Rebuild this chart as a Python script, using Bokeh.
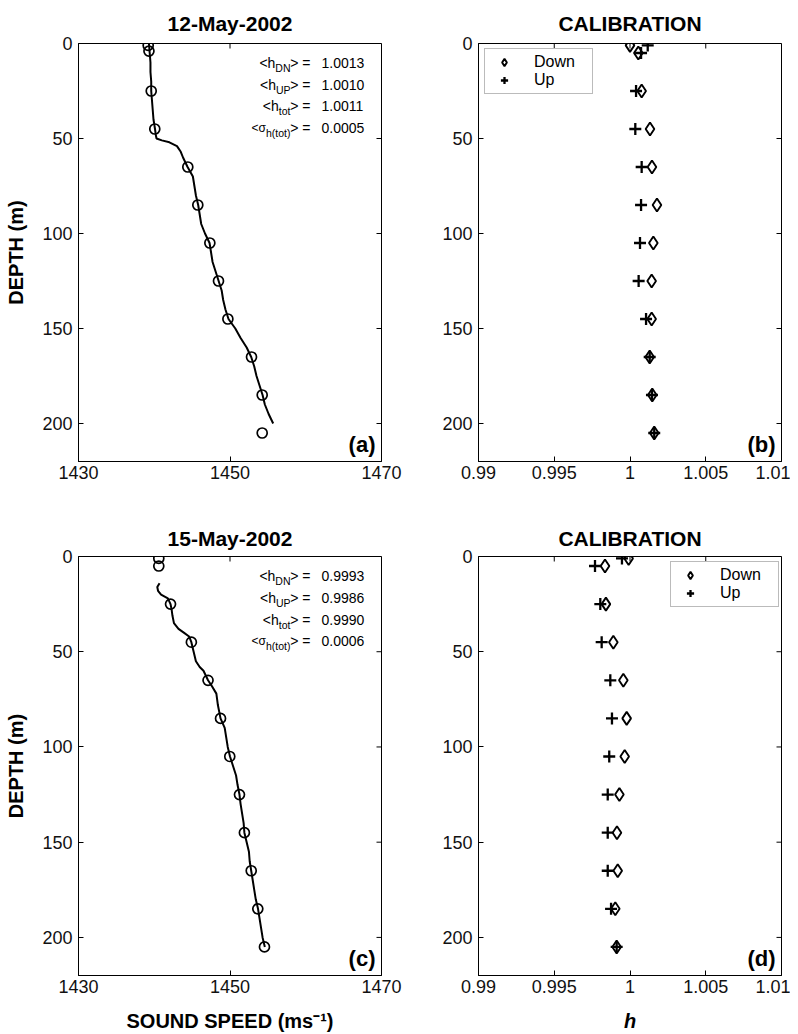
from bokeh.plotting import figure
from bokeh.layouts import column, row
from bokeh.models import (Range1d, FixedTicker, Label, Legend, LegendItem,
                          CustomJSTickFormatter)
from bokeh.embed import file_html
from bokeh.resources import INLINE

FONT = "Liberation Sans"

# ---------------- data ----------------
depth_ticks = [0, 50, 100, 150, 200]
speed_ticks = [1430, 1450, 1470]
h_ticks = [0.99, 0.995, 1.0, 1.005, 1.01]

# (a) 12-May-2002 sound speed profile
prof_a_depth = [0, 5, 10, 15, 20, 25, 30, 35, 40, 45, 48, 50, 51, 52, 54, 57, 60, 65, 70, 75,
                80, 85, 90, 95, 100, 105, 110, 115, 120, 125, 130, 135, 140, 145, 150, 155,
                160, 165, 170, 175, 180, 185, 190, 195, 200]
prof_a_speed = [1439.3, 1439.4, 1439.5, 1439.5, 1439.6, 1439.6, 1439.7, 1439.8, 1439.9, 1440.1,
                1440.2, 1440.3, 1441.0, 1442.0, 1443.0, 1443.5, 1443.8, 1444.4, 1445.1, 1445.3,
                1445.5, 1445.8, 1446.0, 1446.2, 1446.7, 1447.3, 1447.5, 1447.7, 1448.1, 1448.5,
                1448.9, 1449.1, 1449.4, 1449.8, 1450.7, 1451.4, 1452.2, 1452.8, 1453.2, 1453.5,
                1453.9, 1454.3, 1454.6, 1455.1, 1455.7]
pts_a_depth = [1, 4, 25, 45, 65, 85, 105, 125, 145, 165, 185, 205]
pts_a_speed = [1439.2, 1439.3, 1439.6, 1440.07, 1444.43, 1445.75, 1447.34, 1448.48, 1449.72,
               1452.84, 1454.25, 1454.25]

# (b) calibration 12-May-2002
cal_b_depth = [1, 5, 25, 45, 65, 85, 105, 125, 145, 165, 185, 205]
cal_b_down = [1.0000, 1.00055, 1.00077, 1.00132, 1.00145, 1.00178, 1.00154, 1.00143, 1.00143,
              1.0013, 1.00147, 1.0016]
cal_b_up = [1.00117, 1.00073, 1.0004, 1.00035, 1.00077, 1.00073, 1.00066, 1.00057, 1.00106,
            1.0013, 1.00145, 1.0016]

# (c) 15-May-2002 sound speed profile
prof_c_depth = [14, 16, 18, 20, 22, 25, 28, 31, 35, 38, 40, 42, 45, 50, 55, 58, 60, 65, 68, 72,
                78, 85, 90, 95, 100, 105, 110, 115, 120, 125, 130, 135, 140, 145, 150, 155, 160,
                165, 170, 175, 180, 185, 190, 195, 200, 205]
prof_c_speed = [1440.7, 1440.4, 1440.5, 1440.9, 1441.8, 1442.15, 1442.3, 1442.4, 1442.6, 1443.2,
                1443.9, 1444.6, 1444.9, 1445.2, 1445.5, 1446.0, 1446.5, 1447.1, 1447.6, 1448.2,
                1448.4, 1448.75, 1449.3, 1449.5, 1449.7, 1450.0, 1450.4, 1450.8, 1451.0, 1451.25,
                1451.4, 1451.6, 1451.8, 1451.9, 1452.2, 1452.5, 1452.6, 1452.8, 1453.0, 1453.2,
                1453.4, 1453.7, 1453.9, 1454.1, 1454.3, 1454.6]
pts_c_depth = [1, 5, 25, 45, 65, 85, 105, 125, 145, 165, 185, 205]
pts_c_speed = [1440.6, 1440.6, 1442.15, 1444.9, 1447.1, 1448.75, 1449.97, 1451.25, 1451.9,
               1452.8, 1453.67, 1454.55]

# (d) calibration 15-May-2002
cal_d_depth = [1, 5, 25, 45, 65, 85, 105, 125, 145, 165, 185, 205]
cal_d_down = [0.99991, 0.99835, 0.99841, 0.9989, 0.99956, 0.99978, 0.99965, 0.9993, 0.99914,
              0.99919, 0.99903, 0.99912]
cal_d_up = [0.99947, 0.99769, 0.99804, 0.99813, 0.9987, 0.99881, 0.99863, 0.99853, 0.99853,
            0.99853, 0.99875, 0.99912]

stat_prefix = ["<h", "<h", "<h", "<\u03c3"]
stat_subs = ["DN", "UP", "tot", "h(tot)"]
stats_a = ["1.0013", "1.0010", "1.0011", "0.0005"]
stats_c = ["0.9993", "0.9986", "0.9990", "0.0006"]

# ---------------- helpers ----------------
ARIAL_W = {"D": .722, "N": .722, "U": .722, "P": .667, "t": .278, "o": .556, "h": .556,
           "(": .333, ")": .333}
DEPTH_MAX = 220
FRAME_W = 303
TICK_LEN = 5


def text_w(s, size):
    return sum(ARIAL_W.get(c, .556) for c in s) * size


def make_fig(title, xr, xt, width, height, bl, br, bt, bb, frame_h, title_standoff,
             xlabel=None, ylabel=None, xlabel_style="bold"):
    p = figure(width=width, height=height, x_range=Range1d(xr[0], xr[1]),
               y_range=Range1d(DEPTH_MAX, 0), output_backend="svg", toolbar_location=None,
               min_border_left=bl, min_border_right=br, min_border_top=bt,
               min_border_bottom=bb, title=title)
    p.grid.visible = False
    p.outline_line_color = "black"
    p.outline_line_alpha = 1.0
    p.outline_line_width = 1
    p.title.text_font = FONT
    p.title.text_font_size = "21px"
    p.title.text_font_style = "bold"
    p.title.align = "center"
    p.title.standoff = title_standoff
    p.title.text_color = "black"
    fmt = CustomJSTickFormatter(code="return String(tick)")
    for ax, t in ((p.xaxis[0], xt), (p.yaxis[0], depth_ticks)):
        ax.ticker = FixedTicker(ticks=t)
        ax.formatter = fmt
        ax.major_tick_in = TICK_LEN
        ax.major_tick_out = 0
        ax.minor_tick_in = 0
        ax.minor_tick_out = 0
        ax.major_label_text_font = FONT
        ax.major_label_text_font_size = "18px"
        ax.major_label_text_color = "#111111"
        ax.axis_line_color = "black"
        ax.major_tick_line_color = "black"
        ax.axis_label_text_font = FONT
        ax.axis_label_text_font_size = "20px"
        ax.axis_label_text_font_style = "bold"
        ax.axis_label_text_color = "black"
    p.xaxis[0].major_label_standoff = 4
    p.xaxis[0].axis_label_standoff = 14
    p.yaxis[0].major_label_standoff = 6
    p.yaxis[0].axis_label_standoff = 12
    if xlabel:
        p.xaxis[0].axis_label = xlabel
        p.xaxis[0].axis_label_text_font_style = xlabel_style
    if ylabel:
        p.yaxis[0].axis_label = ylabel
    # mirrored inward ticks on the top and right edges of the box
    dy = TICK_LEN * DEPTH_MAX / frame_h
    dx = TICK_LEN * (xr[1] - xr[0]) / FRAME_W
    p.segment(x0=xt, y0=[0] * len(xt), x1=xt, y1=[dy] * len(xt), line_color="black",
              line_width=1)
    p.segment(x0=[xr[1]] * len(depth_ticks), y0=depth_ticks,
              x1=[xr[1] - dx] * len(depth_ticks), y1=depth_ticks, line_color="black",
              line_width=1)
    return p


def add_panel_label(p, xr, txt):
    p.add_layout(Label(x=xr[1], y=DEPTH_MAX, text=txt, text_align="right",
                       text_baseline="bottom", x_offset=-6, y_offset=5, text_font=FONT,
                       text_font_size="22px", text_font_style="bold", text_color="black"))


def add_stats(p, xr, values):
    for i in range(4):
        yy = 10.5 + 11.3 * i
        sub_w = text_w(stat_subs[i], 10.5)
        p.add_layout(Label(x=xr[1], y=yy, text="> =", text_align="right",
                           text_baseline="middle", x_offset=-71, text_font=FONT,
                           text_font_size="14px", text_color="black"))
        p.add_layout(Label(x=xr[1], y=yy, text=stat_subs[i], text_align="right",
                           text_baseline="middle", x_offset=-91, y_offset=-5, text_font=FONT,
                           text_font_size="10.5px", text_color="black"))
        p.add_layout(Label(x=xr[1], y=yy, text=stat_prefix[i], text_align="right",
                           text_baseline="middle", x_offset=-91 - sub_w, text_font=FONT,
                           text_font_size="14px" if i < 3 else "12px", text_color="black"))
        p.add_layout(Label(x=xr[1], y=yy, text=values[i], text_align="left",
                           text_baseline="middle", x_offset=-60, text_font=FONT,
                           text_font_size="14px", text_color="black"))


def profile_panel(title, prof_d, prof_s, pts_d, pts_s, values, letter, height, bt, bb,
                  frame_h, title_standoff, xlabel=None):
    xr = (1430, 1470)
    p = make_fig(title, xr, speed_ticks, 408, height, 78, 27, bt, bb, frame_h, title_standoff,
                 xlabel=xlabel, ylabel="DEPTH (m)")
    p.line(prof_s, prof_d, line_color="black", line_width=2)
    p.scatter(pts_s, pts_d, marker="circle", size=10, fill_color=None, line_color="black",
              line_width=1.7)
    add_stats(p, xr, values)
    add_panel_label(p, xr, letter)
    return p


def calib_panel(depth, down, up, letter, height, bt, bb, frame_h, title_standoff, leg_x,
                xlabel=None):
    xr = (0.99, 1.01)
    p = make_fig("CALIBRATION", xr, h_ticks, 382, height, 70, 9, bt, bb, frame_h,
                 title_standoff, xlabel=xlabel, xlabel_style="bold italic")
    rd = p.scatter(down, depth, marker="diamond", size=13, fill_color=None, line_color="black",
                   line_width=1.9)
    ru = p.scatter(up, depth, marker="cross", size=12, line_color="black", line_width=2.3)
    leg = Legend(items=[LegendItem(label="Down", renderers=[rd]),
                        LegendItem(label="Up", renderers=[ru])],
                 location=(leg_x, frame_h - 7 - 44))
    leg.label_text_font = FONT
    leg.label_text_font_size = "16px"
    leg.label_text_color = "black"
    leg.border_line_color = "#777777"
    leg.border_line_width = 1
    leg.padding = 4
    leg.spacing = 0
    leg.margin = 0
    leg.glyph_width = 30
    leg.glyph_height = 18
    leg.label_height = 18
    leg.label_width = 54
    leg.label_standoff = 15
    p.add_layout(leg)
    add_panel_label(p, xr, letter)
    return p


pa = profile_panel("12-May-2002", prof_a_depth, prof_a_speed, pts_a_depth, pts_a_speed, stats_a,
                   "(a)", 508, 43, 47, 418, 17)
pb = calib_panel(cal_b_depth, cal_b_down, cal_b_up, "(b)", 508, 43, 47, 418, 17, 6)
pc = profile_panel("15-May-2002", prof_c_depth, prof_c_speed, pts_c_depth, pts_c_speed, stats_c,
                   "(c)", 526, 48, 59, 419, 13, xlabel="SOUND SPEED (ms\u207b\u00b9)")
pd = calib_panel(cal_d_depth, cal_d_down, cal_d_up, "(d)", 526, 48, 59, 419, 13, 192,
                 xlabel="h")

layout = column(row(pa, pb), row(pc, pd))
open("out.html", "w").write(file_html(layout, INLINE))
